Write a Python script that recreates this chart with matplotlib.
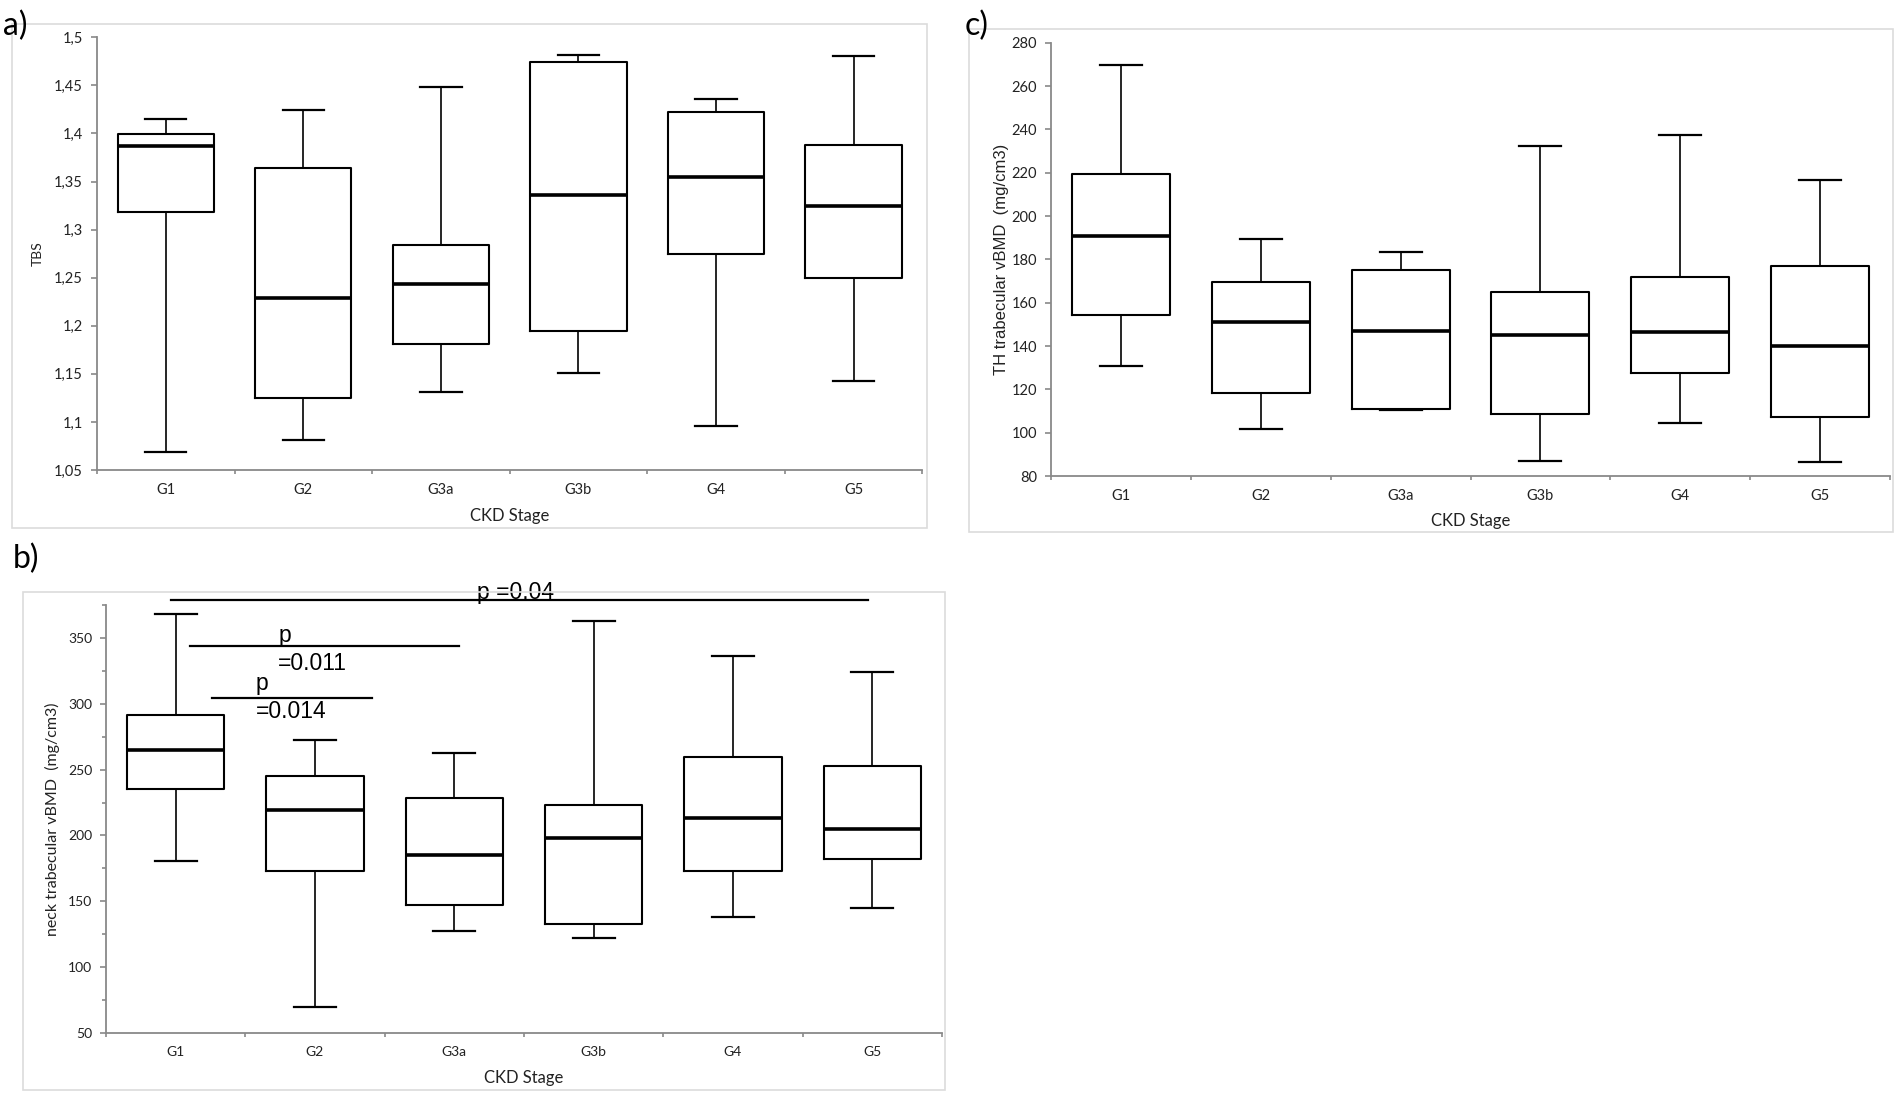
import matplotlib
matplotlib.use('Agg')
import matplotlib.pyplot as plt
from matplotlib.patches import Rectangle
import numpy as np

plt.rcParams['font.family'] = ['Lato', 'DejaVu Sans']

stages = ['G1', 'G2', 'G3a', 'G3b', 'G4', 'G5']

# a) TBS
tbs_lo = [1.069, 1.081, 1.131, 1.151, 1.096, 1.143]
tbs_q1 = [1.318, 1.125, 1.181, 1.195, 1.275, 1.250]
tbs_med = [1.387, 1.229, 1.243, 1.336, 1.355, 1.325]
tbs_q3 = [1.399, 1.364, 1.284, 1.474, 1.422, 1.388]
tbs_hi = [1.415, 1.424, 1.448, 1.482, 1.436, 1.481]
tbs_ticks = [1.05, 1.1, 1.15, 1.2, 1.25, 1.3, 1.35, 1.4, 1.45, 1.5]
tbs_ticklabels = ['1,05', '1,1', '1,15', '1,2', '1,25', '1,3', '1,35', '1,4', '1,45', '1,5']

# b) neck trabecular vBMD
neck_lo = [180.8, 69.9, 127.3, 122.3, 137.9, 145.1]
neck_q1 = [235.6, 172.9, 146.9, 133.1, 172.9, 181.9]
neck_med = [264.5, 219.7, 185.0, 198.3, 213.4, 204.9]
neck_q3 = [291.7, 244.9, 228.7, 223.4, 259.2, 252.6]
neck_hi = [367.7, 272.7, 262.6, 362.4, 336.0, 324.0]

# significance bars: (x start, x end, y)
sig_bars = [(-0.03, 4.97, 378.8), (0.10, 2.03, 343.9), (0.26, 1.41, 304.2)]
# (x, y, text)
sig_texts = [(2.16, 379.6, 'p =0.04'),
             (0.737, 347.1, 'p'), (0.737, 325.6, '=0.011'),
             (0.577, 310.5, 'p'), (0.577, 289.4, '=0.014')]

# c) TH trabecular vBMD
th_lo = [130.9, 101.5, 110.6, 87.1, 104.6, 86.6]
th_q1 = [154.1, 118.2, 111.0, 108.8, 127.7, 107.3]
th_med = [190.9, 151.0, 146.9, 145.3, 146.3, 139.8]
th_q3 = [219.4, 169.4, 175.2, 165.0, 171.7, 177.0]
th_hi = [269.5, 189.6, 183.6, 232.5, 237.3, 216.8]

W, H = 1901, 1097
fig = plt.figure(figsize=(W / 100, H / 100), dpi=100)
spine_col = '#898989'


def px_axes(left, top, right, bottom):
    return fig.add_axes([left / W, 1 - bottom / H, (right - left) / W, (bottom - top) / H])


def frame(left, top, right, bottom):
    fig.add_artist(Rectangle((left / W, 1 - bottom / H), (right - left) / W, (bottom - top) / H,
                             transform=fig.transFigure, fill=False, edgecolor='#dcdcdc', lw=1.2))


def draw_panel(ax, lo, q1, med, q3, hi, tick_fs):
    stats = []
    for i in range(len(stages)):
        stats.append(dict(whislo=lo[i], q1=q1[i], med=med[i], q3=q3[i], whishi=hi[i], fliers=[]))
    ax.bxp(stats, positions=range(len(stages)), widths=0.7, capwidths=0.3, showfliers=False,
           boxprops=dict(color='black', lw=1.5),
           whiskerprops=dict(color='black', lw=1.2),
           capprops=dict(color='black', lw=1.6),
           medianprops=dict(color='black', lw=2.6, solid_capstyle='butt'))
    ax.set_xlim(-0.5, len(stages) - 0.5)
    ax.set_xticks(np.arange(-0.5, len(stages)), [''] * (len(stages) + 1))
    ax.set_xticks(range(len(stages)), stages, minor=True)
    ax.tick_params(axis='x', which='major', length=3, width=1.2, color=spine_col)
    ax.tick_params(axis='x', which='minor', length=0, pad=9, labelsize=tick_fs, labelcolor='#222222')
    ax.tick_params(axis='y', which='both', length=4, width=1.2, color=spine_col, pad=6,
                   labelsize=tick_fs, labelcolor='#222222')
    for s in ['top', 'right']:
        ax.spines[s].set_visible(False)
    for s in ['left', 'bottom']:
        ax.spines[s].set_color(spine_col)
        ax.spines[s].set_linewidth(1.3)
    ax.set_xlabel('CKD Stage', fontsize=12, color='#222222', va='center')


# panel a
frame(12, 24, 927, 528)
ax_a = px_axes(97, 37.3, 922.4, 470)
draw_panel(ax_a, tbs_lo, tbs_q1, tbs_med, tbs_q3, tbs_hi, 10.5)
ax_a.set_ylim(1.05, 1.5)
ax_a.set_yticks(tbs_ticks, tbs_ticklabels)
ax_a.set_ylabel('TBS', fontsize=10, color='#222222', va='center')
ax_a.yaxis.set_label_coords(-59 / 825.4, 0.5)
ax_a.xaxis.set_label_coords(0.5, -46 / 432.7)

# panel b
frame(23, 592, 945, 1090)
ax_b = px_axes(106, 604.8, 942, 1033.2)
draw_panel(ax_b, neck_lo, neck_q1, neck_med, neck_q3, neck_hi, 10)
ax_b.set_ylim(50, 375)
ax_b.set_yticks(range(50, 351, 50))
ax_b.set_yticks(range(75, 376, 50), minor=True)
ax_b.tick_params(axis='y', which='minor', length=3)
ax_b.set_ylabel('neck trabecular vBMD  (mg/cm3)', fontsize=11.5, color='#222222', va='center')
ax_b.yaxis.set_label_coords(-54 / 836, 0.5)
ax_b.xaxis.set_label_coords(0.5, -45 / 428.4)
for x0, x1, y in sig_bars:
    ax_b.plot([x0, x1], [y, y], color='black', lw=1.6, clip_on=False)
for x, y, t in sig_texts:
    ax_b.text(x, y, t, ha='left', va='baseline', fontsize=16.5,
              family=['Liberation Sans', 'DejaVu Sans'], clip_on=False)

# panel c
frame(969, 29, 1893, 532)
ax_c = px_axes(1051, 42.7, 1890, 476)
draw_panel(ax_c, th_lo, th_q1, th_med, th_q3, th_hi, 10.5)
ax_c.set_ylim(80, 280)
ax_c.set_yticks(range(80, 281, 20))
ax_c.set_ylabel('TH trabecular vBMD  (mg/cm3)', fontsize=12, family=['Liberation Sans', 'DejaVu Sans'],
                color='#222222', va='center')
ax_c.yaxis.set_label_coords(-49.5 / 839, 0.5)
ax_c.xaxis.set_label_coords(0.5, -45 / 433.3)

# panel letters
fig.text(3 / W, 1 - 26 / H, 'a)', fontsize=23, va='center', ha='left')
fig.text(13 / W, 1 - 559 / H, 'b)', fontsize=23, va='center', ha='left')
fig.text(965 / W, 1 - 26 / H, 'c)', fontsize=23, va='center', ha='left')

fig.savefig('out.png', dpi=100, facecolor='white')
